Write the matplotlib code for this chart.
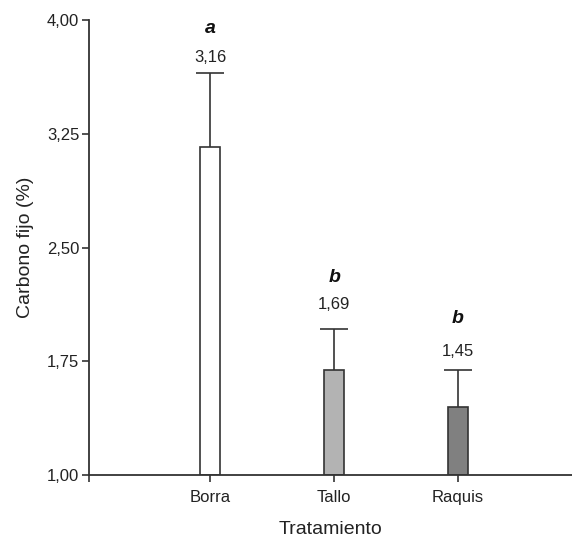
import numpy as np
import matplotlib.pyplot as plt

plt.rcParams['font.family'] = ['Liberation Sans', 'DejaVu Sans']

tratamientos = ['Borra', 'Tallo', 'Raquis']
carbono = [3.16, 1.69, 1.45]
error = [0.49, 0.27, 0.24]
letras = ['a', 'b', 'b']
etiquetas = ['3,16', '1,69', '1,45']
colores = ['white', '#b3b3b3', '#808080']

# text heights (data units) as placed on the original
y_valor = [3.756, 2.121, 1.811]
y_letra = [3.947, 2.299, 2.035]

fig = plt.figure(figsize=(5.72, 5.37), dpi=100)
ax = fig.add_axes([89/572, 62/537, 1 - 89/572, (475 - 20)/537])

x = np.arange(len(tratamientos))
ax.bar(x, np.array(carbono) - 1, bottom=1, width=0.16, color=colores,
       edgecolor='#333333', linewidth=1.2, zorder=2)
eb = ax.errorbar(x, carbono, yerr=[np.zeros(3), error], fmt='none',
                 ecolor='#333333', elinewidth=1.2, capsize=10, capthick=1.2, zorder=1)
# only the upper cap is drawn on the original
eb[1][0].set_visible(False)

for i in range(len(x)):
    ax.text(x[i], y_valor[i], etiquetas[i], ha='center', va='center',
            fontsize=12, color='#222222')
    ax.text(x[i], y_letra[i], letras[i], ha='center', va='center',
            fontsize=14, fontweight='bold', fontstyle='italic', color='#111111')

ax.set_xlim(-0.98, 2.92)
ax.set_ylim(1.0, 4.0)
ax.set_yticks([1.0, 1.75, 2.5, 3.25, 4.0])
ax.set_yticklabels(['1,00', '1,75', '2,50', '3,25', '4,00'])
ax.set_xticks([-0.98, 0, 1, 2])
ax.set_xticklabels([''] + tratamientos)

for s in ['top', 'right']:
    ax.spines[s].set_visible(False)
for s in ['left', 'bottom']:
    ax.spines[s].set_linewidth(1.3)
    ax.spines[s].set_color('#333333')
ax.tick_params(axis='both', direction='out', length=5, width=1.2,
               color='#333333', labelsize=12, labelcolor='#222222', pad=2)
ax.tick_params(axis='x', pad=6)

ax.set_xlabel('Tratamiento', fontsize=14, color='#222222', labelpad=11)
ax.set_ylabel('Carbono fijo (%)', fontsize=14, color='#222222', labelpad=9)

fig.savefig('out.png', dpi=100)
